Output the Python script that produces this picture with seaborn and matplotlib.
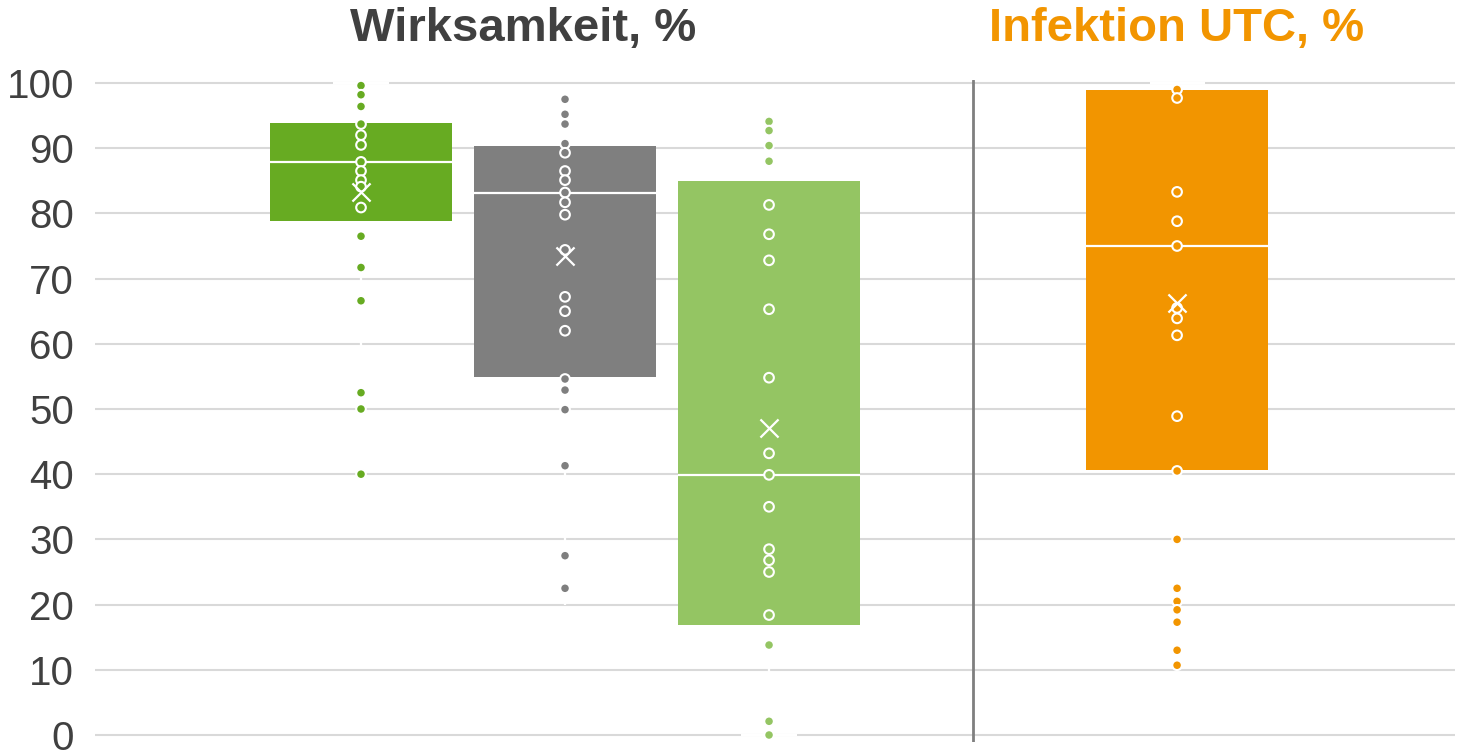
import matplotlib
matplotlib.use("Agg")
import matplotlib.pyplot as plt
import seaborn as sns
import pandas as pd

sns.set_style("white")
plt.rcParams['font.family'] = ['Liberation Sans', 'DejaVu Sans']

# group positions on the category axis (slot 3 holds the divider)
positions = [0, 1, 2, 4]
colors = ["#67AB22", "#7F7F7F", "#94C563", "#F29500"]

# individual values per box
werte_a = [99.6, 98.2, 96.4, 93.7, 92.0, 90.5, 87.9, 86.5, 85.1, 84.1, 80.9,
           76.5, 71.7, 66.6, 52.5, 50.0, 40.0]
werte_b = [97.5, 95.2, 93.7, 90.7, 89.3, 86.5, 85.1, 83.2, 81.7, 79.8, 74.4,
           67.2, 65.0, 62.0, 54.6, 52.9, 49.9, 41.3, 27.5, 22.5]
werte_c = [94.1, 92.7, 90.4, 88.0, 81.3, 76.8, 72.8, 65.3, 54.8, 43.2, 39.9,
           35.0, 28.5, 26.8, 25.0, 18.4, 13.8, 2.1, 0.0]
werte_utc = [99.0, 97.7, 83.3, 78.8, 75.0, 65.5, 63.9, 61.3, 48.9, 40.5, 30.0,
             22.5, 20.5, 19.2, 17.3, 13.0, 10.7]

# box statistics
q1 = [78.8, 54.9, 16.8, 40.6]
median = [87.9, 83.2, 39.9, 75.0]
q3 = [93.8, 90.4, 84.9, 98.9]
mittel = [83.3, 73.4, 47.1, 66.3]
whisker_lo = [40.0, 20.0, 0.0, 10.7]
whisker_hi = [100.0, 97.5, 94.1, 100.0]
# caps that show as gaps in the gridlines
cap_pos = [0, 2, 4]
cap_val = [100.0, 0.0, 100.0]

y_ticks = list(range(0, 101, 10))

rows = []
for gi, vals in enumerate([werte_a, werte_b, werte_c, werte_utc]):
    for v in vals:
        rows.append({"pos": positions[gi], "wert": v, "gruppe": gi})
points = pd.DataFrame(rows)

fig = plt.figure(figsize=(14.61, 7.55), dpi=100)
ax = fig.add_axes([0.065, 0.017, 0.931, 0.8774])

box_w = 0.892
ax.vlines(positions, whisker_lo, whisker_hi, color="white", lw=1.6, zorder=2)
for p, v in zip(cap_pos, cap_val):
    ax.hlines(v, p - 0.135, p + 0.135, color="white", lw=1.6, zorder=2)

ax.bar(positions, [b - a for a, b in zip(q1, q3)], bottom=q1, width=box_w,
       color=colors, linewidth=0, zorder=3)
for p, m in zip(positions, median):
    ax.hlines(m, p - box_w / 2, p + box_w / 2, color="white", lw=1.6, zorder=4)

sns.scatterplot(data=points, x="pos", y="wert", hue="gruppe",
                palette=dict(enumerate(colors)), s=48, edgecolor="white",
                linewidth=1.5, legend=False, zorder=5, ax=ax)
ax.scatter(positions, mittel, marker="x", s=170, color="white", linewidths=1.6, zorder=6)

ax.axvline(3, color="#7F7F7F", lw=2.0, zorder=2)

ax.set_xlim(-1.304, 5.363)
ax.set_ylim(-1.1, 100.5)
ax.set_yticks(y_ticks)
ax.set_xticks([])
ax.set_xlabel("")
ax.set_ylabel("")
ax.grid(axis="y", color="#D9D9D9", lw=1.5)
ax.set_axisbelow(True)
ax.tick_params(axis="y", length=0, pad=15, labelsize=29, labelcolor="#404040")
sns.despine(ax=ax, left=True, bottom=True)

fig.text(523 / 1461, 1 - 41 / 755, "Wirksamkeit, %", ha="center", va="baseline",
         fontsize=34, fontweight="bold", color="#404040")
fig.text(1177 / 1461, 1 - 41 / 755, "Infektion UTC, %", ha="center", va="baseline",
         fontsize=34, fontweight="bold", color="#F29500")

fig.savefig("out.png", dpi=100)
